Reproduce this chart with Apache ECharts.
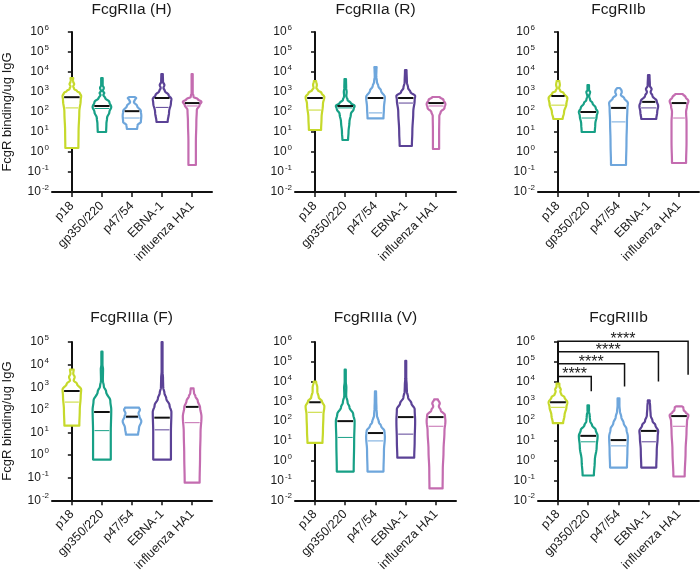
<!DOCTYPE html>
<html>
<head>
<meta charset="utf-8">
<script src="https://cdn.jsdelivr.net/npm/echarts@6/dist/echarts.min.js"></script>
<style>
  html, body { margin: 0; padding: 0; background: #fff; }
  #chart { width: 700px; height: 574px; }
</style>
</head>
<body>
<div id="chart"></div>
<script>
const categories = ['p18', 'gp350/220', 'p47/54', 'EBNA-1', 'influenza HA1'];
const colors = ['#c6d92b', '#17a086', '#6ea6dc', '#5b4296', '#c46cb0'];
const titles = ['FcgRIIa (H)', 'FcgRIIa (R)', 'FcgRIIb', 'FcgRIIIa (F)', 'FcgRIIIa (V)', 'FcgRIIIb'];

// violin outlines: [log10 value, relative density], bottom to top
const outlineIIaH = [
  [[0.2,0.7],[1,0.72],[2,0.8],[2.6,0.95],[2.8,1.0],[2.95,0.85],[3.05,0.55],[3.15,0.25],[3.28,0.15],[3.4,0.25],[3.5,0.15],[3.6,0.12],[3.7,0.15]],
  [[1.0,0.45],[1.4,0.48],[1.7,0.55],[2.0,0.8],[2.25,1.0],[2.5,0.8],[2.7,0.35],[2.85,0.15],[2.95,0.25],[3.05,0.1],[3.2,0.2],[3.35,0.08],[3.7,0.08]],
  [[1.15,0.55],[1.35,0.6],[1.5,0.95],[1.8,1.0],[2.05,0.95],[2.3,0.55],[2.5,0.2],[2.6,0.3],[2.7,0.45],[2.75,0.3]],
  [[1.5,0.6],[2.0,0.75],[2.45,0.95],[2.65,1.0],[2.85,0.7],[3.05,0.3],[3.2,0.15],[3.35,0.25],[3.5,0.1],[3.9,0.08]],
  [[-0.65,0.4],[0.5,0.4],[1.5,0.45],[2.1,0.5],[2.35,0.8],[2.5,1.0],[2.65,0.6],[2.75,0.15],[3.0,0.06],[3.9,0.06]]
];
const medianIIaH = [550, 200, 110, 500, 280];
const quartileIIaH = [160, 150, 50, 170, 200];

const outlineIIaR = [
  [[1.1,0.65],[1.7,0.7],[2.4,0.85],[2.75,1.0],[2.95,0.7],[3.1,0.3],[3.2,0.15],[3.35,0.2],[3.55,0.12]],
  [[0.6,0.3],[1.0,0.35],[1.5,0.45],[1.9,0.6],[2.15,0.9],[2.3,1.0],[2.45,0.6],[2.6,0.25],[2.8,0.12],[3.0,0.15],[3.2,0.1],[3.65,0.08]],
  [[1.68,0.85],[2.2,0.9],[2.75,1.0],[3.05,0.6],[3.3,0.3],[3.5,0.15],[3.8,0.08],[4.1,0.1],[4.25,0.12]],
  [[0.3,0.65],[1.0,0.7],[2.0,0.8],[2.6,0.95],[2.8,1.0],[3.0,0.5],[3.2,0.25],[3.5,0.12],[4.1,0.08]],
  [[0.15,0.33],[1.0,0.33],[1.8,0.35],[2.0,0.5],[2.2,0.9],[2.4,1.0],[2.6,0.8],[2.75,0.4]]
];
const medianIIaR = [500, 200, 500, 500, 280];
const quartileIIaR = [125, 160, 90, 280, 200];

const outlineIIb = [
  [[1.65,0.5],[2.0,0.65],[2.4,0.9],[2.7,1.0],[2.95,0.6],[3.05,0.25],[3.2,0.12],[3.35,0.2],[3.55,0.15]],
  [[1.0,0.7],[1.4,0.75],[1.8,0.9],[2.0,1.0],[2.2,0.8],[2.45,0.45],[2.6,0.2],[2.8,0.1],[3.0,0.2],[3.1,0.08],[3.35,0.08]],
  [[-0.65,0.8],[0.5,0.85],[1.5,0.9],[2.2,0.95],[2.45,1.0],[2.7,0.6],[2.85,0.25],[3.0,0.35],[3.1,0.3],[3.2,0.15]],
  [[1.65,0.8],[2.0,0.9],[2.3,1.0],[2.55,0.85],[2.8,0.4],[3.0,0.2],[3.15,0.3],[3.3,0.12],[3.85,0.08]],
  [[-0.55,0.75],[0.5,0.8],[1.5,0.8],[2.0,0.75],[2.3,0.85],[2.55,1.0],[2.75,0.7],[2.9,0.4]]
];
const medianIIb = [630, 100, 160, 320, 280];
const quartileIIb = [220, 50, 32, 160, 50];

const outlineIIIaF = [
  [[1.3,0.8],[2.0,0.85],[2.6,0.95],[2.9,1.0],[3.15,0.55],[3.3,0.2],[3.45,0.3],[3.6,0.15],[3.78,0.2]],
  [[-0.2,0.95],[1.0,0.95],[2.0,1.0],[2.4,0.9],[2.8,0.45],[3.05,0.2],[3.3,0.1],[3.8,0.12],[4.0,0.06],[4.57,0.06]],
  [[0.9,0.65],[1.2,0.75],[1.5,1.0],[1.7,0.8],[1.85,0.7],[2.0,0.85],[2.1,0.75]],
  [[-0.2,0.95],[1.0,0.95],[1.9,1.0],[2.2,0.8],[2.5,0.45],[2.75,0.25],[3.0,0.12],[3.4,0.1],[3.7,0.05],[5.0,0.05]],
  [[-1.22,0.8],[0.0,0.85],[1.0,0.9],[1.7,1.0],[2.1,0.85],[2.4,0.6],[2.6,0.35],[2.75,0.2],[2.95,0.15]]
];
const medianIIIaF = [680, 80, 50, 45, 135];
const quartileIIIaF = [220, 12, 45, 13, 27];

const outlineIIIaV = [
  [[0.9,0.8],[1.5,0.85],[2.3,0.9],[2.75,1.0],[3.0,0.75],[3.2,0.4],[3.5,0.25],[3.7,0.25],[4.0,0.12]],
  [[-0.55,0.9],[1.0,0.95],[2.0,1.0],[2.35,0.85],[2.7,0.45],[2.95,0.25],[3.3,0.1],[3.7,0.12],[4.0,0.06],[4.6,0.06]],
  [[-0.55,0.85],[0.5,0.9],[1.2,1.0],[1.5,0.95],[1.75,0.6],[1.95,0.35],[2.3,0.15],[2.7,0.1],[3.0,0.08],[3.5,0.06]],
  [[0.15,0.9],[1.0,0.95],[2.0,1.0],[2.6,0.95],[2.9,0.6],[3.2,0.25],[3.5,0.12],[3.8,0.1],[4.2,0.05],[5.05,0.05]],
  [[-1.4,0.7],[-0.5,0.72],[0.5,0.8],[1.5,0.9],[2.0,1.0],[2.3,0.95],[2.55,0.5],[2.75,0.3],[2.9,0.4],[3.1,0.2]]
];
const medianIIIaV = [900, 100, 25, 160, 160];
const quartileIIIaV = [280, 15, 10, 22, 55];

const outlineIIIb = [
  [[1.9,0.55],[2.3,0.7],[2.7,0.9],[2.95,1.0],[3.2,0.7],[3.35,0.35],[3.5,0.25],[3.6,0.3],[3.75,0.15],[3.9,0.15]],
  [[-0.75,0.6],[0.0,0.7],[0.7,0.9],[1.25,1.0],[1.55,0.8],[1.8,0.4],[2.0,0.2],[2.3,0.15],[2.5,0.08],[2.8,0.08]],
  [[-0.35,0.9],[0.5,0.95],[1.2,1.0],[1.6,0.85],[1.9,0.55],[2.2,0.3],[2.5,0.15],[2.8,0.1],[3.15,0.1]],
  [[-0.35,0.8],[0.5,0.85],[1.2,0.95],[1.5,1.0],[1.8,0.7],[2.0,0.4],[2.3,0.2],[2.7,0.15],[3.05,0.1]],
  [[-0.8,0.6],[0.5,0.7],[1.5,0.8],[2.0,0.85],[2.3,1.0],[2.45,0.7],[2.55,0.5],[2.7,0.45],[2.75,0.3]]
];
const medianIIIb = [900, 18, 11, 32, 180];
const quartileIIIb = [500, 9, 5.6, 9, 55];

// significance brackets (FcgRIIIb): p18 vs each antigen
const sigTarget = [1, 2, 3, 4];
const sigLabel = ['****', '****', '****', '****'];
const sigTop = [1.8e4, 8e4, 3.2e5, 1.1e6];
const sigLeftEnd = [1.1e4, 5.6e4, 2e5, 8e5];
const sigRightEnd = [3.2e3, 5.6e3, 1e4, 2.2e4];

const yMax = [1e6, 1e6, 1e6, 1e5, 1e6, 1e6];

const panels = [
  [outlineIIaH, medianIIaH, quartileIIaH],
  [outlineIIaR, medianIIaR, quartileIIaR],
  [outlineIIb, medianIIb, quartileIIb],
  [outlineIIIaF, medianIIIaF, quartileIIIaF],
  [outlineIIIaV, medianIIIaV, quartileIIIaV],
  [outlineIIIb, medianIIIb, quartileIIIb]
];

const FONT = 'Liberation Sans, Arial, sans-serif';
const TXT = '#1a1a1a';
const colLeft = [51, 295, 538];
const rowTop = [32, 342];
const plotW = 161, plotH = 160;
const HALF = 0.31; // max half width of a violin, in category units

const chart = echarts.init(document.getElementById('chart'));

function widthAt(prof, lg) {
  if (lg <= prof[0][0]) return prof[0][1];
  for (let k = 1; k < prof.length; k++) {
    if (lg <= prof[k][0]) {
      const a = prof[k - 1], b = prof[k];
      const t = (lg - a[0]) / (b[0] - a[0]);
      return a[1] + (b[1] - a[1]) * (1 - Math.cos(Math.PI * t)) / 2;
    }
  }
  return prof[prof.length - 1][1];
}

// resample outline with eased steps so the edge is smooth but the ends stay flat
function resample(prof) {
  const out = [prof[0]];
  for (let k = 1; k < prof.length; k++) {
    const a = prof[k - 1], b = prof[k];
    const n = 6;
    for (let s = 1; s <= n; s++) {
      const t = s / n;
      out.push([a[0] + (b[0] - a[0]) * t, a[1] + (b[1] - a[1]) * (1 - Math.cos(Math.PI * t)) / 2]);
    }
  }
  return out;
}

const grids = [], xAxes = [], yAxes = [], series = [], titleOpts = [];

panels.forEach((p, idx) => {
  const col = idx % 3, row = Math.floor(idx / 3);
  grids.push({ left: colLeft[col], top: rowTop[row], width: plotW, height: plotH });
  titleOpts.push({
    text: titles[idx], left: colLeft[col] + plotW / 2, top: row === 0 ? 2 : 310, textAlign: 'center', padding: 0,
    textStyle: { fontFamily: FONT, fontSize: 15.5, fontWeight: 'normal', color: TXT }
  });
  xAxes.push({
    gridIndex: idx, type: 'value', min: -0.66, max: 4.66,
    splitLine: { show: false },
    axisLine: { show: true, lineStyle: { color: '#111', width: 2 } },
    axisTick: { show: true, customValues: [0, 1, 2, 3, 4], length: 5, lineStyle: { color: '#111', width: 1.5 } },
    axisLabel: {
      customValues: [0, 1, 2, 3, 4], rotate: 45, margin: 12,
      fontFamily: FONT, fontSize: 12.5, color: TXT,
      formatter: v => categories[Math.round(v)]
    }
  });
  const decades = Math.round(Math.log10(yMax[idx])) + 2;
  yAxes.push({
    gridIndex: idx, type: 'log', logBase: 10, min: 0.01, max: yMax[idx], splitNumber: decades,
    name: col === 0 ? 'FcgR binding/ug IgG' : '', nameLocation: 'middle', nameGap: 38,
    nameTextStyle: { fontFamily: FONT, fontSize: 13, color: TXT },
    splitLine: { show: false },
    axisLine: { show: true, lineStyle: { color: '#111', width: 2 } },
    axisTick: { show: true, length: 4, lineStyle: { color: '#111', width: 1.5 } },
    axisLabel: {
      margin: 3,
      formatter: v => '{b|10}{s|' + Math.round(Math.log10(v)) + '}',
      rich: {
        b: { fontFamily: FONT, fontSize: 12, color: TXT, lineHeight: 16 },
        s: { fontFamily: FONT, fontSize: 8, color: TXT, verticalAlign: 'top', lineHeight: 10, padding: [0, 0, 0, 1] }
      }
    }
  });

  const [outlines, medians, quartiles] = p;
  series.push({
    type: 'custom', xAxisIndex: idx, yAxisIndex: idx, clip: false,
    data: categories.map((c, i) => [i, medians[i]]),
    encode: { x: 0, y: 1 },
    renderItem: function (params, api) {
      const i = params.dataIndex;
      const prof = outlines[i];
      const right = [], left = [];
      resample(prof).forEach(([lg, w]) => {
        const v = Math.pow(10, lg);
        right.push(api.coord([i + w * HALF, v]));
        left.unshift(api.coord([i - w * HALF, v]));
      });
      const hline = (val, stroke, lw) => {
        const w = widthAt(prof, Math.log10(val)) * HALF;
        const a = api.coord([i - w, val]), b = api.coord([i + w, val]);
        return { type: 'line', shape: { x1: a[0] + 1.5, y1: a[1], x2: b[0] - 1.5, y2: b[1] }, style: { stroke: stroke, lineWidth: lw } };
      };
      return {
        type: 'group',
        children: [
          { type: 'polygon', shape: { points: right.concat(left) },
            style: { fill: '#fff', stroke: colors[i], lineWidth: 2.2, lineJoin: 'round' } },
          hline(quartiles[i], colors[i], 1),
          hline(medians[i], '#111', 2)
        ]
      };
    }
  });
});

// significance brackets on the last panel
const legShift = [0.1, 0.2, 0.32, 0.3];
series.push({
  type: 'custom', xAxisIndex: 5, yAxisIndex: 5, clip: false,
  data: sigTarget.map((t, k) => [t, sigTop[k]]),
  encode: { x: 0, y: 1 },
  renderItem: function (params, api) {
    const k = params.dataIndex;
    const xr = sigTarget[k] + legShift[k];
    const pts = [
      api.coord([0, sigLeftEnd[k]]), api.coord([0, sigTop[k]]),
      api.coord([xr, sigTop[k]]), api.coord([xr, sigRightEnd[k]])
    ];
    const mid = api.coord([xr / 2, sigTop[k]]);
    return {
      type: 'group',
      children: [
        { type: 'polyline', shape: { points: pts }, style: { stroke: '#111', lineWidth: 1.5, fill: null } },
        { type: 'text', x: mid[0], y: mid[1] - 1.5,
          style: { text: sigLabel[k], fontFamily: FONT, fontSize: 16, fill: TXT, align: 'center', verticalAlign: 'middle' } }
      ]
    };
  }
});

const option = {
  animation: false,
  backgroundColor: '#fff',
  title: titleOpts,
  grid: grids,
  xAxis: xAxes,
  yAxis: yAxes,
  series: series
};
chart.setOption(option);
</script>
</body>
</html>
